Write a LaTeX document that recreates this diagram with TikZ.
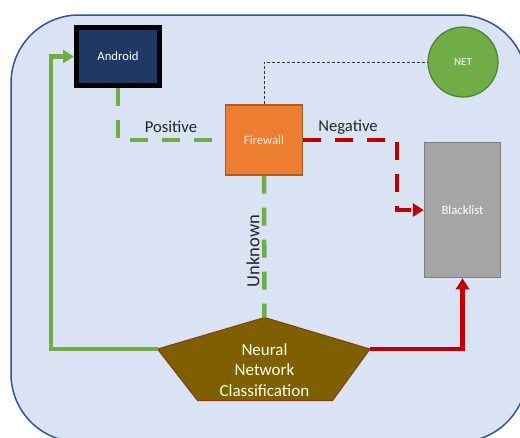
\documentclass[tikz,border=0pt]{standalone}
\usepackage{fontspec}
\setmainfont{Carlito}
\usetikzlibrary{arrows.meta,calc}
\definecolor{bgfill}{HTML}{DAE3F3}
\definecolor{bgline}{HTML}{2F5597}
\definecolor{navy}{HTML}{1F3864}
\definecolor{ogreen}{HTML}{70AD47}
\definecolor{ogreendk}{HTML}{507E32}
\definecolor{ored}{HTML}{C00000}
\definecolor{oorange}{HTML}{ED7D31}
\definecolor{oorangedk}{HTML}{AE5A21}
\definecolor{ogray}{HTML}{A5A5A5}
\definecolor{ograydk}{HTML}{7F7F7F}
\definecolor{obrown}{HTML}{7F6000}
\definecolor{obrowndk}{HTML}{843C0C}
\definecolor{labeltxt}{HTML}{262626}
\begin{document}
\begin{tikzpicture}[x=1pt,y=-1pt,
  boxlabel/.style={font=\fontsize{12.7}{15}\selectfont, text=white},
  gsolid/.style={draw=ogreen, line width=4.5pt},
  gdash/.style={draw=ogreen, line width=4.5pt, dash pattern=on 18pt off 14pt},
  rsolid/.style={draw=ored, line width=4.5pt},
  rdash/.style={draw=ored, line width=4.5pt, dash pattern=on 18pt off 14pt},
  edgelabel/.style={font=\fontsize{16.6}{20}\selectfont, text=labeltxt},
  tip/.style={-{Triangle[length=11pt,width=13pt]}}
]
\useasboundingbox (0,0) rectangle (520,437);
% background panel
\draw[fill=bgfill, draw=bgline, line width=1.5pt, rounded corners=68pt]
  (11,15) rectangle (527,442);

% nodes
\node[draw=black, line width=5pt, fill=navy, minimum width=83pt, minimum height=58pt,
      inner sep=0pt, boxlabel] (android) at (118,56.5) {Android};
\node[draw=oorangedk, line width=1.2pt, fill=oorange, minimum width=77pt, minimum height=70pt,
      inner sep=0pt, boxlabel, text=white!88!oorange] (firewall) at (264,140) {Firewall};
\node[draw=ograydk, line width=1.5pt, fill=ogray, minimum width=76pt, minimum height=135pt,
      inner sep=0pt, boxlabel] (blacklist) at (462.5,210) {Blacklist};
\node[circle, draw=ogreendk, line width=1.2pt, fill=ogreen, minimum size=70pt,
      inner sep=0pt, boxlabel, font=\fontsize{11}{13}\selectfont] (net) at (463,62) {NET};

% pentagon
\coordinate (nnT) at (264.5,317.5);
\coordinate (nnR) at (370,349);
\coordinate (nnBR) at (332.5,400.7);
\coordinate (nnBL) at (197.7,400.7);
\coordinate (nnL) at (157.5,349);
\filldraw[fill=obrown, draw=obrowndk, line width=1pt]
  (nnT) -- (nnR) -- (nnBR) -- (nnBL) -- (nnL) -- cycle;
\node[align=center, text=white!92!yellow, font=\fontsize{17}{20.5}\selectfont] (nn) at (264.5,370)
  {Neural\\Network\\Classification};

% connectors
\draw[gsolid, tip] (nnL) -- ++(-106.5,0) |- (android.west);
\draw[gdash] (android.south) |- (firewall.west);
\draw[gdash] (firewall.south) -- (nnT);
\draw[rdash, tip] (firewall.east) -| ($(blacklist.west)+(-27,0)$) -- (blacklist.west);
\draw[rsolid, tip] (nnR) -| (blacklist.south);
\draw[black!80, line width=0.9pt, dash pattern=on 3pt off 2pt] (firewall.north) |- (net.west);

% labels
\node[edgelabel] (lpos) at (171,127) {Positive};
\node[edgelabel] (lneg) at (348,127) {Negative};
\node[edgelabel, font=\fontsize{18.5}{22}\selectfont, rotate=90] (lunk) at (253,251) {Unknown};
\end{tikzpicture}
\end{document}
